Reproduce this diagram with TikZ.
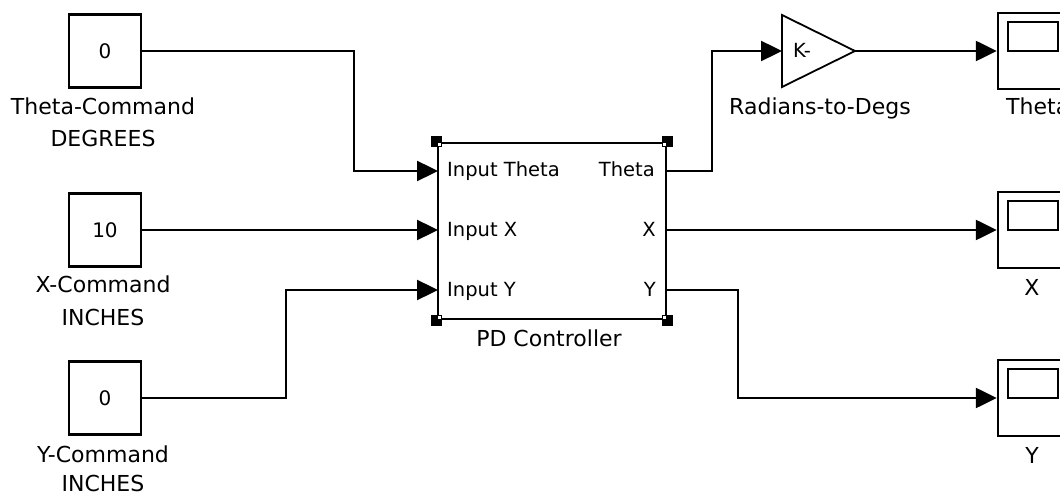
\documentclass[tikz,border=0pt]{standalone}
\usepackage{fontspec}
\setmainfont{DejaVu Sans}
\usetikzlibrary{arrows.meta}
\begin{document}
\begin{tikzpicture}[x=1pt,y=-1pt,
  line width=2.4pt,
  arr/.style={-{Triangle[length=21pt,width=20pt]}},
  txt/.style={font=\fontsize{22}{24}\selectfont, inner sep=0pt},
  itxt/.style={font=\fontsize{19.5}{22}\selectfont, inner sep=0pt},
  blk/.style={draw, line width=2.4pt, inner sep=0pt, font=\fontsize{20}{22}\selectfont},
  const/.style={blk, minimum width=72pt, minimum height=73pt},
  scope/.style={blk, minimum width=68pt, minimum height=76pt},
]
\fill[white] (0,0) rectangle (1060,494);
\useasboundingbox (0,0) rectangle (1060,494);
\clip (0,0) rectangle (1060,494);

% constants
\node[const] (c1) at (105,51) {0};
\node[const] (c2) at (105,230) {10};
\node[const] (c3) at (105,398) {0};
\node[txt, anchor=base] (l1a) at (103,115) {Theta-Command};
\node[txt, anchor=base] (l1b) at (103,147) {DEGREES};
\node[txt, anchor=base] (l2a) at (103,293) {X-Command};
\node[txt, anchor=base] (l2b) at (103,326) {INCHES};
\node[txt, anchor=base] (l3a) at (103,462) {Y-Command};
\node[txt, anchor=base] (l3b) at (103,491) {INCHES};

% PD controller
\node[blk, minimum width=228pt, minimum height=176pt] (pd) at (552,231) {};
\coordinate (pdi1) at (438,171);
\coordinate (pdi2) at (438,230);
\coordinate (pdi3) at (438,290);
\coordinate (pdo1) at (666,171);
\coordinate (pdo2) at (666,230);
\coordinate (pdo3) at (666,290);
\node[itxt, anchor=base west] (ti1) at (446,177) {Input Theta};
\node[itxt, anchor=base west] (ti2) at (446,237) {Input X};
\node[itxt, anchor=base west] (ti3) at (446,297) {Input Y};
\node[itxt, anchor=base east] (to1) at (656,177) {Theta};
\node[itxt, anchor=base east] (to2) at (657,237) {X};
\node[itxt, anchor=base east] (to3) at (657,297) {Y};
\node[txt, anchor=base] (pdl) at (549,346) {PD Controller};
\foreach \c/\dx/\dy in {north west/1/1, north east/-1/1, south west/1/-1, south east/-1/-1}{
  \fill[black] (pd.\c) ++(-5.5,-5.5) rectangle ++(11,11);
  \fill[white] (pd.\c) ++(\dx*1.5,\dy*1.5) rectangle ++(\dx*3,\dy*3);
}

% gain
\coordinate (g1) at (782,15);
\coordinate (g2) at (782,87);
\coordinate (g3) at (855,51);
\draw[line width=1.8pt, line join=miter] (g1) -- (g3) -- (g2) -- cycle;
\coordinate (gin) at (782,51);
\node[itxt, anchor=base west] (k) at (792,58) {K-};
\node[txt, anchor=base] (gl) at (820,115) {Radians-to-Degs};

% scopes
\node[scope] (s1) at (1032,51) {};
\node[scope] (s2) at (1032,230) {};
\node[scope] (s3) at (1032,398) {};
\draw (1008,22) rectangle (1058,51);
\draw (1008,201) rectangle (1058,230);
\draw (1008,369) rectangle (1058,398);
\node[txt, anchor=base west] (sl1) at (1005,115) {Theta};
\node[txt, anchor=base] (sl2) at (1032,295) {X};
\node[txt, anchor=base] (sl3) at (1032,463) {Y};

% connectors
\draw[arr] (c1.east) -| (354,171) -- (pdi1);
\draw[arr] (c2.east) -- (pdi2);
\draw[arr] (c3.east) -| (286,290) -- (pdi3);
\draw[arr] (pdo1) -| (712,51) -- (gin);
\draw[arr] (g3) -- (s1.west);
\draw[arr] (pdo2) -- (s2.west);
\draw[arr] (pdo3) -| (738,398) -- (s3.west);
\end{tikzpicture}
\end{document}
